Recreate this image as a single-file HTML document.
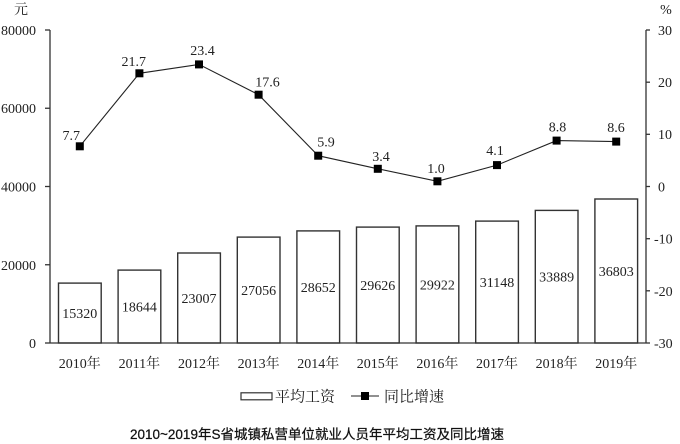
<!DOCTYPE html>
<html><head><meta charset="utf-8"><style>
html,body{margin:0;padding:0;background:#fff;}
svg{display:block;}
.t{font-family:"Liberation Serif","Noto Serif CJK SC",serif;font-size:14px;fill:#222;}
.c{font-family:"Liberation Serif","Noto Serif CJK SC",serif;font-size:15px;fill:#222;}
.ti{font-family:"Liberation Sans","Noto Sans CJK SC",sans-serif;font-size:13.5px;fill:#111;stroke:#111;stroke-width:0.25px;}
</style></head><body>
<svg width="680" height="444" viewBox="0 0 680 444" xmlns="http://www.w3.org/2000/svg">
<rect width="680" height="444" fill="#fff"/>
<!-- bars -->
<g fill="#fff" stroke="#333" stroke-width="1.4">
<rect x="58.5" y="283.1" width="42.7" height="59.9"/>
<rect x="118.1" y="270.1" width="42.7" height="72.9"/>
<rect x="177.7" y="253.0" width="42.7" height="90.0"/>
<rect x="237.3" y="237.1" width="42.7" height="105.9"/>
<rect x="296.9" y="230.9" width="42.7" height="112.1"/>
<rect x="356.5" y="227.1" width="42.7" height="115.9"/>
<rect x="416.1" y="225.9" width="42.7" height="117.1"/>
<rect x="475.7" y="221.1" width="42.7" height="121.9"/>
<rect x="535.3" y="210.4" width="42.7" height="132.6"/>
<rect x="594.9" y="199.0" width="42.7" height="144.0"/>
</g>
<g class="t" text-anchor="middle">
<text x="79.8" y="318">15320</text>
<text x="139.4" y="311.5">18644</text>
<text x="199" y="303">23007</text>
<text x="258.6" y="295">27056</text>
<text x="318.2" y="292">28652</text>
<text x="377.8" y="290">29626</text>
<text x="437.4" y="289.5">29922</text>
<text x="497" y="287">31148</text>
<text x="556.6" y="281.7">33889</text>
<text x="616.2" y="276">36803</text>
</g>
<!-- axes -->
<g stroke="#333" stroke-width="1.3" fill="none">
<line x1="50" y1="30" x2="50" y2="343"/>
<line x1="50" y1="343" x2="646" y2="343"/>
<line x1="646" y1="30" x2="646" y2="343"/>
<line x1="45" y1="30" x2="50" y2="30"/>
<line x1="45" y1="108.25" x2="50" y2="108.25"/>
<line x1="45" y1="186.5" x2="50" y2="186.5"/>
<line x1="45" y1="264.75" x2="50" y2="264.75"/>
<line x1="45" y1="343" x2="50" y2="343"/>
<line x1="646" y1="30" x2="650" y2="30"/>
<line x1="646" y1="82.2" x2="650" y2="82.2"/>
<line x1="646" y1="134.3" x2="650" y2="134.3"/>
<line x1="646" y1="186.5" x2="650" y2="186.5"/>
<line x1="646" y1="238.7" x2="650" y2="238.7"/>
<line x1="646" y1="290.8" x2="650" y2="290.8"/>
<line x1="646" y1="343" x2="650" y2="343"/>
</g>
<g class="t" text-anchor="end">
<text x="36" y="35">80000</text>
<text x="36" y="113">60000</text>
<text x="36" y="191.5">40000</text>
<text x="36" y="270">20000</text>
<text x="36" y="348">0</text>
</g>
<g class="t" text-anchor="start">
<text x="658" y="35">30</text>
<text x="658" y="87">20</text>
<text x="658" y="139">10</text>
<text x="658" y="191.5">0</text>
<text x="654" y="243.5">-10</text>
<text x="654" y="296">-20</text>
<text x="654" y="348">-30</text>
</g>
<text class="t" x="21" y="14" text-anchor="middle">元</text>
<text class="t" x="666" y="14" text-anchor="middle">%</text>
<!-- categories -->
<g class="t" text-anchor="middle">
<text x="79.8" y="368">2010年</text>
<text x="139.4" y="368">2011年</text>
<text x="199" y="368">2012年</text>
<text x="258.6" y="368">2013年</text>
<text x="318.2" y="368">2014年</text>
<text x="377.8" y="368">2015年</text>
<text x="437.4" y="368">2016年</text>
<text x="497" y="368">2017年</text>
<text x="556.6" y="368">2018年</text>
<text x="616.2" y="368">2019年</text>
</g>
<!-- line -->
<polyline fill="none" stroke="#222" stroke-width="1.1" points="79.8,146.3 139.4,73.3 199,64.4 258.6,94.7 318.2,155.7 377.8,168.8 437.4,181.3 497,165.1 556.6,140.6 616.2,141.6"/>
<g fill="#000">
<rect x="75.8" y="142.3" width="8" height="8"/>
<rect x="135.4" y="69.3" width="8" height="8"/>
<rect x="195" y="60.4" width="8" height="8"/>
<rect x="254.6" y="90.7" width="8" height="8"/>
<rect x="314.2" y="151.7" width="8" height="8"/>
<rect x="373.8" y="164.8" width="8" height="8"/>
<rect x="433.4" y="177.3" width="8" height="8"/>
<rect x="493" y="161.1" width="8" height="8"/>
<rect x="552.6" y="136.6" width="8" height="8"/>
<rect x="612.2" y="137.6" width="8" height="8"/>
</g>
<g class="t" text-anchor="middle">
<text x="71.3" y="140">7.7</text>
<text x="133.7" y="66">21.7</text>
<text x="202.5" y="55">23.4</text>
<text x="267.5" y="86.5">17.6</text>
<text x="326" y="146.5">5.9</text>
<text x="381" y="161">3.4</text>
<text x="436" y="173">1.0</text>
<text x="495" y="155">4.1</text>
<text x="557.5" y="131.5">8.8</text>
<text x="616" y="132">8.6</text>
</g>
<!-- legend -->
<rect x="241" y="392.8" width="31" height="7" fill="#fff" stroke="#333" stroke-width="1.2"/>
<text class="c" x="275" y="401.5">平均工资</text>
<line x1="351" y1="396" x2="379" y2="396" stroke="#222" stroke-width="1.1"/>
<rect x="361" y="392" width="8" height="8" fill="#000"/>
<text class="c" x="384" y="401.5">同比增速</text>
<!-- title -->
<text class="ti" x="130" y="439">2010~2019年S省城镇私营单位就业人员年平均工资及同比增速</text>
</svg>
</body></html>
